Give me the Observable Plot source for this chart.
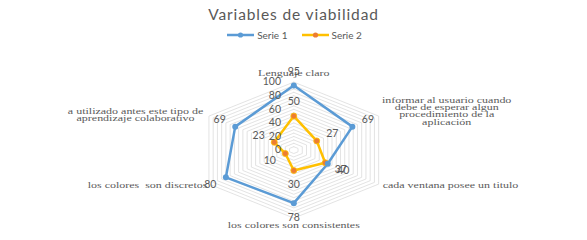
<!DOCTYPE html>
<html>
<head>
<meta charset="utf-8">
<script src="https://cdn.jsdelivr.net/npm/d3@7"></script>
<script src="https://cdn.jsdelivr.net/npm/@observablehq/plot@0.6"></script>
<style>
  body { margin: 0; background: #fff; }
  #wrap { width: 587px; height: 240px; position: relative; overflow: hidden; font-family: Lato, "Open Sans", sans-serif; }
  #title { position: absolute; left: 0; top: 4px; width: 587px; text-align: center; font-size: 15.5px; letter-spacing: 0.9px; line-height: 20px; color: #595959; }
  #legend { position: absolute; left: 0; top: 28px; width: 587px; height: 14px; display: flex; justify-content: center; align-items: center; font-size: 10px; color: #595959; padding-left: 2px; box-sizing: border-box; }
  #legend .item { display: flex; align-items: center; }
  #legend .item + .item { margin-left: 14px; }
  #legend svg { margin-right: 3px; }
  #chart { position: absolute; left: 0; top: 44px; }
</style>
</head>
<body>
<div id="wrap">
  <div id="title">Variables de viabilidad</div>
  <div id="legend"></div>
  <div id="chart"></div>
</div>
<script>
// ---- data ----
const categories = [
  "Lenguaje claro",
  "informar al usuario cuando\ndebe de esperar algun\nprocedimiento de la\naplicación",
  "cada ventana posee un titulo",
  "los colores son consistentes",
  "los colores  son discretos",
  "a utilizado antes este tipo de\naprendizaje colaborativo"
];
const serie1 = [95, 69, 40, 78, 80, 69];
const serie2 = [50, 27, 37, 30, 10, 23];
const seriesNames = ["Serie 1", "Serie 2"];
const tickValues = [0, 20, 40, 60, 80, 100];
const gridValues = [5,10,15,20,25,30,35,40,45,50,55,60,65,70,75,80,85,90,95,100];

// ---- styles / layout ----
const colors = { s1: "#5B9BD5", s2: "#FFC000", s2dot: "#ED7D31", grid: "#D9D9D9", text: "#595959" };
const xRange = [195.3, 391.3];
const yRange = [173.6, 37.6];
const kx = (xRange[1] - xRange[0]) / 200;
const ky = (yRange[0] - yRange[1]) / 200;
const n = categories.length;
const ang = i => (i % n) * 2 * Math.PI / n;
const px = (v, i) => v * Math.sin(ang(i));
const py = (v, i) => v * Math.cos(ang(i));

// legend
const legend = document.getElementById("legend");
[[seriesNames[0], colors.s1, colors.s1], [seriesNames[1], colors.s2, colors.s2dot]].forEach(([name, c, dot]) => {
  const it = document.createElement("div");
  it.className = "item";
  it.innerHTML = `<svg width="27" height="8"><line x1="0" y1="4" x2="27" y2="4" stroke="${c}" stroke-width="2.5"/><circle cx="13.5" cy="4" r="2.6" fill="${dot}"/></svg><span>${name}</span>`;
  legend.appendChild(it);
});

// grid rings
const rings = gridValues.flatMap(r => d3.range(n + 1).map(k => ({ r, x: px(r, k), y: py(r, k) })));
const poly = vals => d3.range(n + 1).map(k => ({ x: px(vals[k % n], k), y: py(vals[k % n], k) }));
const pts = vals => vals.map((v, i) => ({ v, i, x: px(v, i), y: py(v, i) }));
const labOff = (vals) => vals.map((v, i) => ({
  v,
  x: px(v, i) + (18 / kx) * Math.sin(ang(i)),
  y: py(v, i) + (14 / ky) * Math.cos(ang(i))
}));

// category label placement (styles, not data)
const catLayout = [
  { anchor: "middle", dx: 0, dy: -8.6 },
  { anchor: "middle", dx: 68, dy: -4.6 },
  { anchor: "start", dx: 4, dy: 1.5 },
  { anchor: "middle", dx: 0, dy: 7.5 },
  { anchor: "end", dx: -1.5, dy: 1.5 },
  { anchor: "middle", dx: -73.4, dy: -1 }
];
const catMarks = categories.map((c, i) => Plot.text([{ c, x: px(100, i), y: py(100, i) }], {
  x: "x", y: "y", text: "c",
  textAnchor: catLayout[i].anchor, lineAnchor: "middle",
  dx: catLayout[i].dx, dy: catLayout[i].dy,
  fontFamily: "Liberation Serif", fontSize: 12, lineHeight: 1.0, fill: colors.text
}));

const chart = Plot.plot({
  width: 587,
  height: 196,
  margin: 0,
  x: { domain: [-100, 100], range: xRange, axis: null },
  y: { domain: [-100, 100], range: yRange, axis: null },
  marks: [
    Plot.line(rings, { x: "x", y: "y", z: "r", stroke: colors.grid, strokeWidth: 0.75 }),
    Plot.line(poly(serie2), { x: "x", y: "y", stroke: colors.s2, strokeWidth: 2.5, strokeLinejoin: "round" }),
    Plot.line(poly(serie1), { x: "x", y: "y", stroke: colors.s1, strokeWidth: 2.5, strokeLinejoin: "round" }),
    Plot.dot(pts(serie2), { x: "x", y: "y", r: 3, fill: colors.s2dot, stroke: colors.s2, strokeWidth: 0.8 }),
    Plot.dot(pts(serie1), { x: "x", y: "y", r: 3, fill: colors.s1 }),
    Plot.text(tickValues, { x: () => 0, y: d => d, text: d => String(d), textAnchor: "end", dx: -12.8, fontSize: 10.5, fill: colors.text, fontFamily: "Lato" }),
    Plot.text(labOff(serie1), { x: "x", y: "y", text: d => String(d.v), fontSize: 10.5, fill: colors.text, fontFamily: "Lato" }),
    Plot.text(labOff(serie2), { x: "x", y: "y", text: d => String(d.v), fontSize: 10.5, fill: colors.text, fontFamily: "Lato" }),
    ...catMarks
  ]
});
document.getElementById("chart").appendChild(chart);
// squash category labels vertically like the reference
chart.querySelectorAll('g[font-family="Liberation Serif"] text').forEach(t => {
  t.setAttribute("transform", (t.getAttribute("transform") || "") + " scale(1,0.6)");
});
</script>
</body>
</html>
